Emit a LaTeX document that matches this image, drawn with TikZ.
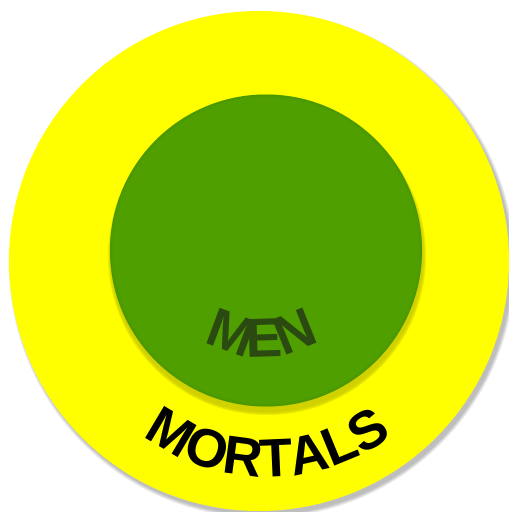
\documentclass[tikz,border=0pt]{standalone}
\usepackage{fontspec}
\newfontfamily\labfont{Liberation Sans}
\usetikzlibrary{decorations.text}
\definecolor{ylw}{HTML}{FFFF00}
\definecolor{grn}{HTML}{509F00}
\definecolor{grndark}{HTML}{3F8A00}
\definecolor{mentxt}{HTML}{2B4A12}
\definecolor{ylwshadow}{HTML}{C8C800}
\newcommand{\menfmt}{\labfont\bfseries\fontsize{55}{60}\selectfont}
\newcommand{\mortfmt}{\labfont\bfseries\fontsize{54}{60}\selectfont}
\tikzset{
  setcircle/.style={circle, draw=none, inner sep=0pt},
  arclabel/.style={decorate, decoration={text along path, text align=center, #1}}
}
\begin{document}
\begin{tikzpicture}[x=1pt,y=1pt]
\useasboundingbox (0,0) rectangle (509,512);
% shadow of outer circle
\foreach \r in {253,252,251,250}
  \fill[black, opacity=0.07] (262,247) circle[radius=\r pt];
\node[setcircle, fill=ylw, minimum size=500pt] (mortals) at (259,251) {};
% shadow of inner circle
\foreach \r in {159,158,157,156}
  \fill[ylwshadow, opacity=0.35] (267,256) circle[radius=\r pt];
\node[setcircle, fill=grn, minimum size=312pt] (men) at (266,261.5) {};
\foreach \r/\o in {155.5/0.25,154.5/0.15,153.5/0.08}
  \draw[grndark, line width=1.2pt, opacity=\o] (men.center) circle[radius=\r pt];
% labels
\path[arclabel={text={|\menfmt|MEN}, text color=mentxt}]
  (262,263) ++(200:108pt) arc[start angle=200, end angle=340, radius=108pt];
\path[arclabel={text={|\mortfmt|MORTALS}, text color=black}]
  (268,242) ++(200:207pt) arc[start angle=200, end angle=340, radius=207pt];
\end{tikzpicture}
\end{document}
